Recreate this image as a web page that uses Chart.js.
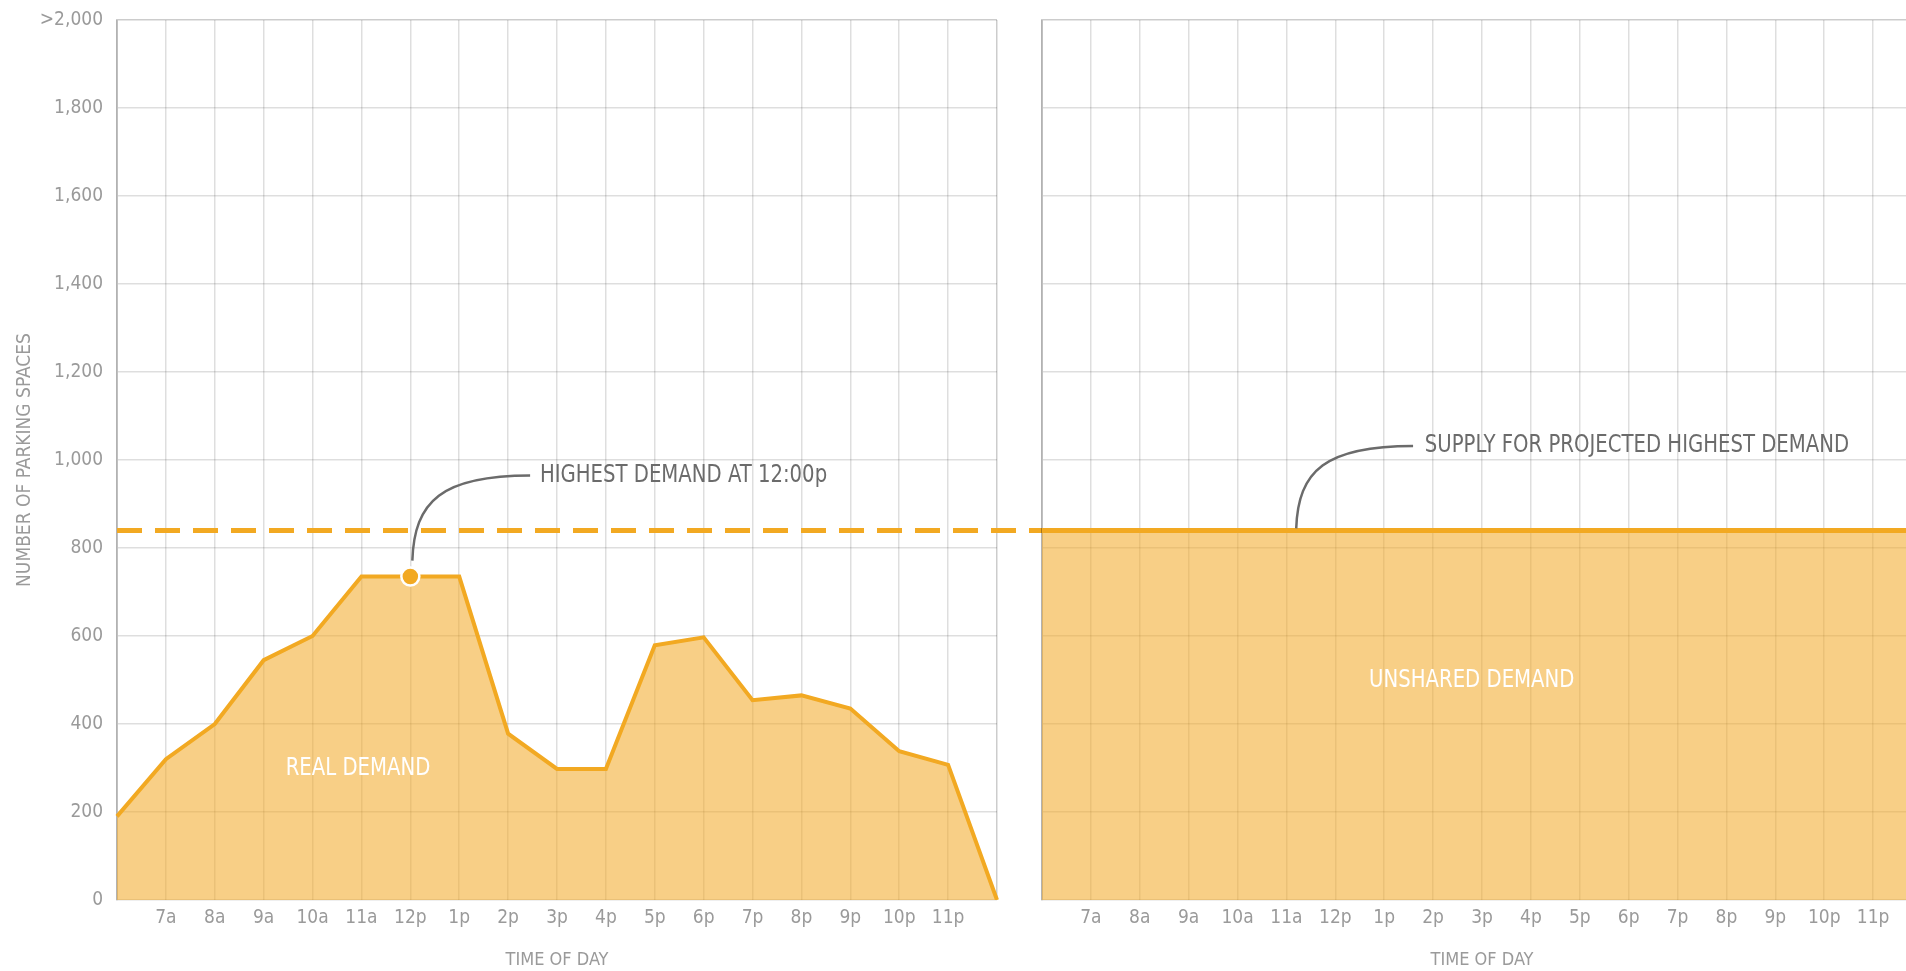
<!DOCTYPE html>
<html>
<head>
<meta charset="utf-8">
<title>Parking demand by time of day</title>
<script src="https://cdn.jsdelivr.net/npm/chart.js@4.4.1/dist/chart.umd.min.js"></script>
<style>
  html, body { margin:0; padding:0; background:#fff; overflow:hidden; width:1906px; height:971px; }
  canvas { position:absolute; top:0; }
  #realChart { left:0; }
  #unsharedChart { left:1000px; }
</style>
</head>
<body>
<canvas id="realChart" width="1042" height="971"></canvas>
<canvas id="unsharedChart" width="980" height="971"></canvas>
<script>
// 1) Data: hourly parking demand, 6a to midnight
const hourLabels = ['6a','7a','8a','9a','10a','11a','12p','1p','2p','3p','4p','5p','6p','7p','8p','9p','10p','11p','12a'];
const realDemand = [190, 320, 400, 545, 600, 735, 735, 735, 378, 298, 298, 579, 597, 454, 465, 435, 338, 307, 0];
const unsharedDemand = [840, 840, 840, 840, 840, 840, 840, 840, 840, 840, 840, 840, 840, 840, 840, 840, 840, 840, 840];
const supplyLevel = 840;
const peakHour = '12p';
const yMax = 2000;
const yStep = 200;

// 2) Styles
const ORANGE = '#F2A922';
const FILL = 'rgba(242,168,34,0.55)';
const GRID = 'rgba(0,0,0,0.13)';
const EDGE = 'rgba(0,0,0,0.2)';
const TICK_GRAY = '#9a9a9a';
const NOTE_GRAY = '#6b6b6b';
const FONT = '"Liberation Sans Narrow", "DejaVu Sans Condensed", "Arial Narrow", sans-serif';
const NOTE_SQUEEZE = 0.875; // annotation text is set narrower than the font's own width

Chart.defaults.font.family = FONT;
Chart.defaults.color = TICK_GRAY;

const last = hourLabels.length - 1;
const peakIndex = hourLabels.indexOf(peakHour);

function xScale(){
  return {
    type:'category',
    offset:false,
    grid:{ color: c => c.index === last ? EDGE : GRID, lineWidth:1.5, drawTicks:false },
    border:{ display:false },
    ticks:{
      autoSkip:false, maxRotation:0, padding:7, font:{ size:19 }, color:TICK_GRAY,
      callback:(v, i) => (i === 0 || i === last) ? '' : hourLabels[i]
    },
    title:{ display:true, text:'TIME OF DAY', font:{ size:18 }, color:TICK_GRAY, padding:{ top:0, bottom:0 } },
    afterFit: s => { s.height = 71; s.paddingLeft = 0; s.paddingRight = 0; }
  };
}

function yScale(showLabels, width){
  return {
    min:0, max:yMax,
    grid:{ color: c => c.tick.value === yMax ? EDGE : GRID, lineWidth:1.5, drawTicks:false },
    border:{ display:true, color:EDGE, width:2 },
    ticks:{
      display:showLabels, stepSize:yStep, padding:14, font:{ size:19 }, color:TICK_GRAY,
      callback: v => v === yMax ? '>2,000' : v.toLocaleString('en-US')
    },
    title:{ display:showLabels, text:'NUMBER OF PARKING SPACES', font:{ size:19 }, color:TICK_GRAY, padding:{ top:14, bottom:0 } },
    afterFit: s => { s.width = width; s.paddingTop = 0; s.paddingBottom = 0; }
  };
}

// curved leader: leaves the start going up, arrives at the end going right
function leader(ctx, sx, sy, ex, ey){
  ctx.strokeStyle = NOTE_GRAY;
  ctx.lineWidth = 2.5;
  ctx.beginPath();
  ctx.moveTo(sx, sy);
  ctx.bezierCurveTo(sx + 2, ey + (sy - ey) * 0.3, sx + (ex - sx) * 0.25, ey, ex, ey);
  ctx.stroke();
}

function note(ctx, text, x, y, color, size, align){
  ctx.save();
  ctx.translate(x, y);
  ctx.scale(NOTE_SQUEEZE, 1);
  ctx.font = size + 'px ' + FONT;
  ctx.fillStyle = color;
  ctx.textAlign = align;
  ctx.textBaseline = 'middle';
  ctx.fillText(text, 0, 0);
  ctx.restore();
}

// 3) Annotations
const realNotes = {
  id:'realNotes',
  afterDatasetsDraw(chart){
    const { ctx, chartArea, scales:{ x, y } } = chart;
    const ys = y.getPixelForValue(supplyLevel);
    ctx.save();
    // supply level, dashed, runs on into the gap up to the next panel
    ctx.strokeStyle = ORANGE;
    ctx.lineWidth = 5;
    ctx.setLineDash([25, 13]);
    ctx.beginPath();
    ctx.moveTo(chartArea.left, ys);
    ctx.lineTo(chart.width, ys);
    ctx.stroke();
    ctx.setLineDash([]);

    const px = x.getPixelForValue(peakIndex);
    const py = y.getPixelForValue(realDemand[peakIndex]);
    leader(ctx, px + 2, py - 16, x.getPixelForValue(8.45), y.getPixelForValue(965));
    note(ctx, 'HIGHEST DEMAND AT 12:00p', x.getPixelForValue(8.65), y.getPixelForValue(965), NOTE_GRAY, 25, 'left');
    note(ctx, 'REAL DEMAND', x.getPixelForValue(4.93), y.getPixelForValue(300), '#fff', 25, 'center');
    ctx.restore();
  }
};

const unsharedNotes = {
  id:'unsharedNotes',
  afterDatasetsDraw(chart){
    const { ctx, scales:{ x, y } } = chart;
    ctx.save();
    leader(ctx, x.getPixelForValue(5.2), y.getPixelForValue(supplyLevel) - 2, x.getPixelForValue(7.59), y.getPixelForValue(1032));
    note(ctx, 'SUPPLY FOR PROJECTED HIGHEST DEMAND', x.getPixelForValue(7.83), y.getPixelForValue(1032), NOTE_GRAY, 25, 'left');
    note(ctx, 'UNSHARED DEMAND', x.getPixelForValue(8.79), y.getPixelForValue(498), '#fff', 25, 'center');
    ctx.restore();
  }
};

const baseOptions = {
  responsive:false,
  animation:false,
  plugins:{ legend:{ display:false }, tooltip:{ enabled:false } }
};

// 4) Charts
new Chart(document.getElementById('realChart'), {
  type:'line',
  data:{
    labels:hourLabels,
    datasets:[{
      data:realDemand,
      borderColor:ORANGE,
      borderWidth:4,
      backgroundColor:FILL,
      fill:'origin',
      tension:0,
      pointRadius: c => c.dataIndex === peakIndex ? 9 : 0,
      pointBackgroundColor:ORANGE,
      pointBorderColor:'#fff',
      pointBorderWidth:2.5
    }]
  },
  options:{
    ...baseOptions,
    layout:{ padding:{ top:20, right:45, bottom:0, left:0 } },
    scales:{ x:xScale(), y:yScale(true, 117) }
  },
  plugins:[realNotes]
});

new Chart(document.getElementById('unsharedChart'), {
  type:'line',
  data:{
    labels:hourLabels,
    datasets:[{
      data:unsharedDemand,
      borderColor:ORANGE,
      borderWidth:5,
      backgroundColor:FILL,
      fill:'origin',
      tension:0,
      pointRadius:0
    }]
  },
  options:{
    ...baseOptions,
    layout:{ padding:{ top:20, right:58, bottom:0, left:0 } },
    scales:{ x:xScale(), y:yScale(false, 42) }
  },
  plugins:[unsharedNotes]
});
</script>
</body>
</html>
